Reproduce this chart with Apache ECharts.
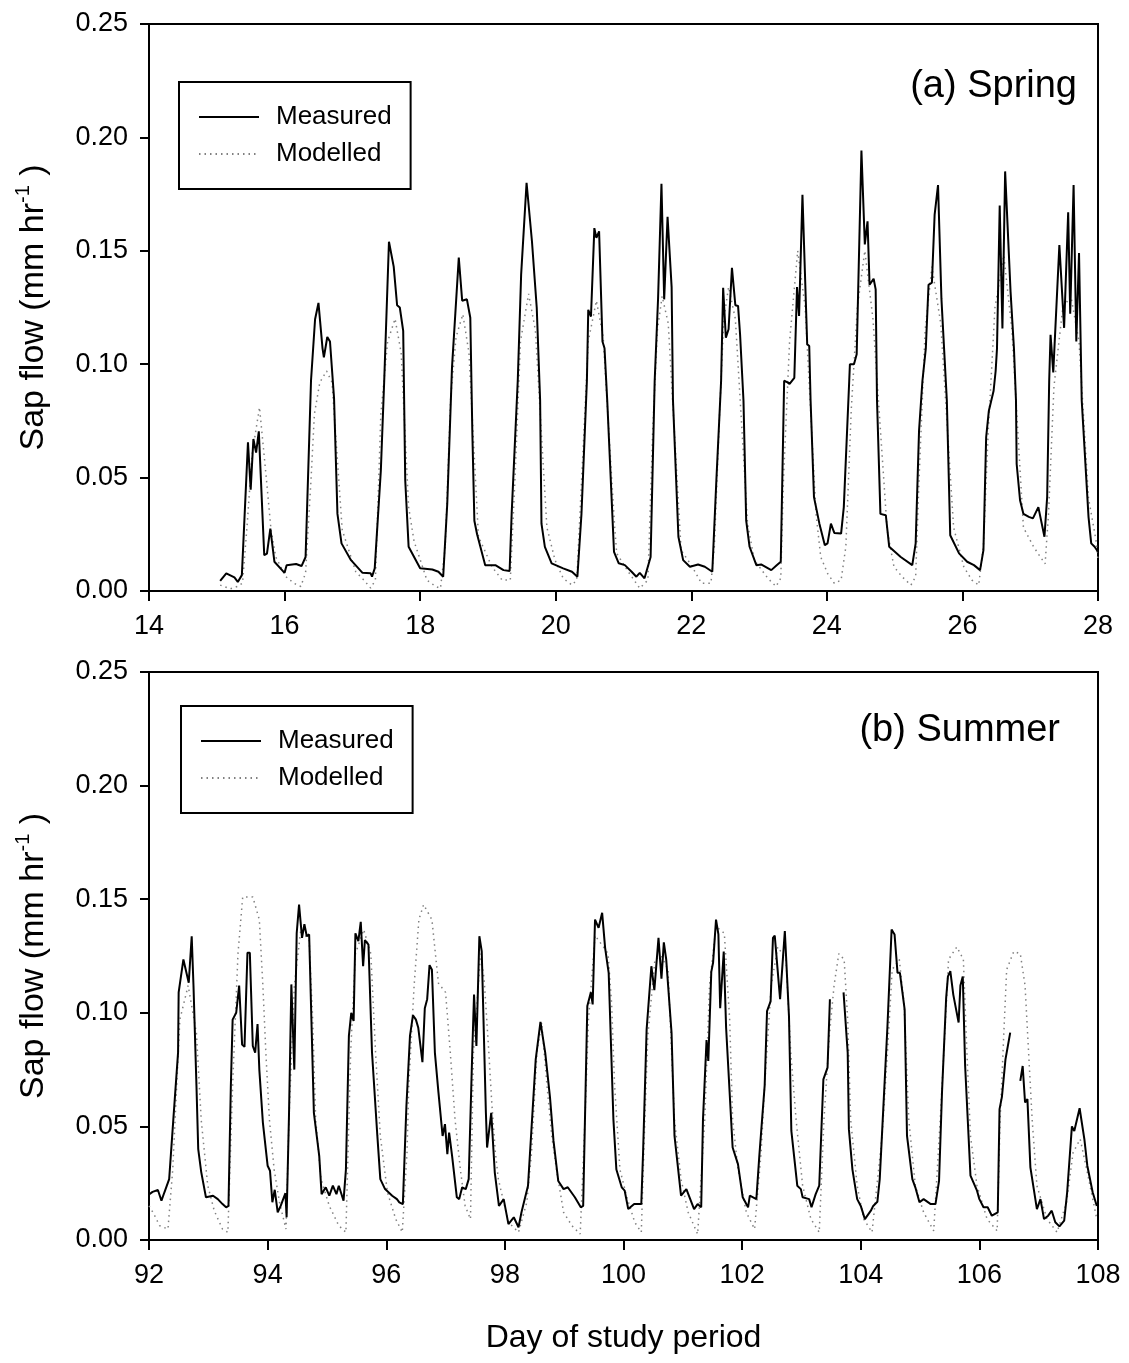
<!DOCTYPE html>
<html>
<head>
<meta charset="utf-8">
<script src="https://cdn.jsdelivr.net/npm/echarts@6/dist/echarts.min.js"></script>
<style>
html,body{margin:0;padding:0;background:#fff;}
#chart{width:1129px;height:1363px;}
</style>
</head>
<body>
<div id="chart"></div>
<script>
// ---- Data (day of study period, sap flow mm/hr) ----
var springMeasured = [[15.05,0.0045],[15.14,0.0078],[15.26,0.006],[15.31,0.004],[15.37,0.007],[15.46,0.0656],[15.50,0.0447],[15.54,0.067],[15.58,0.061],[15.62,0.0704],[15.70,0.0158],[15.74,0.0165],[15.79,0.0275],[15.85,0.0129],[16.00,0.008],[16.03,0.0114],[16.17,0.0119],[16.25,0.011],[16.31,0.015],[16.39,0.0927],[16.45,0.1198],[16.50,0.127],[16.56,0.107],[16.58,0.103],[16.63,0.112],[16.67,0.110],[16.73,0.085],[16.78,0.034],[16.84,0.021],[16.98,0.0136],[17.15,0.008],[17.27,0.0078],[17.29,0.0063],[17.33,0.010],[17.42,0.053],[17.47,0.0927],[17.54,0.154],[17.61,0.143],[17.66,0.126],[17.70,0.125],[17.75,0.1147],[17.78,0.0488],[17.83,0.0195],[18.00,0.010],[18.18,0.0095],[18.27,0.0085],[18.34,0.0063],[18.40,0.0385],[18.47,0.0986],[18.57,0.147],[18.62,0.128],[18.69,0.1286],[18.74,0.1205],[18.77,0.07],[18.80,0.031],[18.84,0.025],[18.96,0.0114],[19.11,0.0114],[19.23,0.0092],[19.32,0.0088],[19.35,0.034],[19.44,0.0927],[19.49,0.1396],[19.57,0.180],[19.65,0.154],[19.72,0.125],[19.77,0.084],[19.79,0.0297],[19.84,0.0195],[19.94,0.0122],[20.11,0.010],[20.24,0.0085],[20.32,0.0063],[20.38,0.034],[20.46,0.0927],[20.48,0.124],[20.52,0.121],[20.57,0.160],[20.60,0.1557],[20.64,0.1586],[20.69,0.110],[20.72,0.107],[20.76,0.084],[20.86,0.0173],[20.93,0.0122],[21.02,0.0114],[21.12,0.0085],[21.19,0.0063],[21.24,0.008],[21.31,0.0056],[21.40,0.015],[21.46,0.0927],[21.51,0.129],[21.56,0.1796],[21.60,0.1286],[21.65,0.165],[21.71,0.134],[21.73,0.084],[21.81,0.0239],[21.88,0.0136],[21.98,0.0107],[22.10,0.0117],[22.20,0.0107],[22.31,0.0085],[22.37,0.0488],[22.44,0.0927],[22.47,0.1337],[22.51,0.1117],[22.55,0.1154],[22.60,0.1425],[22.65,0.126],[22.69,0.1257],[22.72,0.113],[22.77,0.084],[22.81,0.031],[22.86,0.0195],[22.96,0.0114],[23.03,0.0117],[23.18,0.0092],[23.26,0.0114],[23.32,0.0129],[23.37,0.0927],[23.42,0.092],[23.45,0.0913],[23.52,0.094],[23.56,0.134],[23.59,0.1213],[23.64,0.1747],[23.71,0.1088],[23.74,0.108],[23.76,0.084],[23.81,0.0414],[23.89,0.0297],[23.97,0.0202],[24.01,0.021],[24.06,0.0297],[24.11,0.0256],[24.21,0.0253],[24.25,0.037],[24.33,0.0927],[24.34,0.100],[24.40,0.100],[24.44,0.1044],[24.51,0.1942],[24.56,0.1528],[24.60,0.163],[24.63,0.135],[24.69,0.1377],[24.72,0.133],[24.74,0.084],[24.79,0.034],[24.87,0.0334],[24.92,0.0195],[25.09,0.015],[25.26,0.0114],[25.31,0.021],[25.36,0.0707],[25.41,0.0927],[25.46,0.107],[25.50,0.135],[25.55,0.136],[25.59,0.166],[25.64,0.179],[25.69,0.129],[25.77,0.084],[25.82,0.0246],[25.95,0.0166],[26.07,0.0129],[26.17,0.0114],[26.26,0.0092],[26.31,0.018],[26.35,0.0678],[26.39,0.0795],[26.46,0.0883],[26.49,0.097],[26.51,0.107],[26.55,0.170],[26.59,0.1158],[26.63,0.185],[26.71,0.132],[26.76,0.107],[26.79,0.084],[26.80,0.056],[26.85,0.040],[26.90,0.034],[26.98,0.0327],[27.04,0.032],[27.12,0.037],[27.21,0.0239],[27.25,0.0414],[27.28,0.0927],[27.30,0.113],[27.34,0.0964],[27.43,0.1525],[27.50,0.116],[27.56,0.167],[27.59,0.1223],[27.64,0.179],[27.68,0.110],[27.72,0.149],[27.76,0.084],[27.86,0.0327],[27.90,0.021],[27.95,0.0195],[28.0,0.0173]];

var springModelled = [[15.05,0.0026],[15.20,0.001],[15.30,0.002],[15.38,0.0035],[15.45,0.03],[15.52,0.06],[15.63,0.081],[15.73,0.050],[15.80,0.027],[15.87,0.015],[16.02,0.0063],[16.14,0.0034],[16.24,0.002],[16.31,0.008],[16.39,0.049],[16.44,0.078],[16.52,0.092],[16.62,0.097],[16.70,0.092],[16.80,0.049],[16.85,0.027],[17.05,0.0085],[17.17,0.0048],[17.27,0.0013],[17.34,0.0048],[17.42,0.078],[17.52,0.110],[17.63,0.120],[17.72,0.105],[17.83,0.037],[17.91,0.022],[18.10,0.0048],[18.23,0.002],[18.30,0.0012],[18.37,0.0195],[18.45,0.085],[18.53,0.112],[18.63,0.122],[18.72,0.105],[18.86,0.024],[19.06,0.0107],[19.21,0.0048],[19.33,0.0048],[19.40,0.05],[19.48,0.110],[19.60,0.131],[19.70,0.115],[19.87,0.028],[19.99,0.0136],[20.11,0.0056],[20.24,0.0026],[20.31,0.0048],[20.40,0.06],[20.48,0.110],[20.60,0.128],[20.70,0.112],[20.87,0.028],[20.90,0.0166],[21.07,0.0085],[21.24,0.0012],[21.36,0.0048],[21.43,0.07],[21.50,0.115],[21.57,0.130],[21.66,0.118],[21.85,0.018],[22.0,0.0114],[22.15,0.0034],[22.29,0.0034],[22.34,0.0195],[22.42,0.08],[22.48,0.120],[22.55,0.134],[22.65,0.120],[22.83,0.0297],[22.93,0.0136],[23.13,0.0056],[23.25,0.002],[23.32,0.0056],[23.36,0.049],[23.45,0.110],[23.57,0.150],[23.68,0.125],[23.84,0.034],[23.91,0.015],[24.01,0.0078],[24.11,0.0034],[24.21,0.0048],[24.28,0.0195],[24.36,0.08],[24.45,0.125],[24.56,0.150],[24.68,0.120],[24.89,0.0268],[24.99,0.0107],[25.11,0.0063],[25.24,0.0026],[25.31,0.0063],[25.36,0.049],[25.45,0.115],[25.55,0.143],[25.68,0.118],[25.87,0.028],[26.02,0.0107],[26.14,0.0048],[26.24,0.0026],[26.31,0.02],[26.38,0.07],[26.48,0.125],[26.61,0.148],[26.73,0.115],[26.90,0.028],[27.05,0.0195],[27.15,0.015],[27.22,0.012],[27.27,0.034],[27.35,0.09],[27.48,0.125],[27.60,0.130],[27.72,0.110],[27.86,0.041],[27.97,0.0224],[28.0,0.0136]];

var summerMeasured = [[92.0,0.020],[92.06,0.0212],[92.15,0.022],[92.21,0.0173],[92.26,0.021],[92.34,0.0268],[92.41,0.053],[92.49,0.0825],[92.50,0.109],[92.58,0.1235],[92.67,0.1132],[92.72,0.1337],[92.75,0.112],[92.80,0.068],[92.83,0.040],[92.88,0.030],[92.96,0.0188],[93.08,0.0195],[93.16,0.018],[93.24,0.0158],[93.30,0.0144],[93.34,0.015],[93.38,0.068],[93.41,0.097],[93.47,0.100],[93.52,0.112],[93.57,0.086],[93.61,0.085],[93.66,0.1264],[93.70,0.1264],[93.75,0.0854],[93.79,0.0825],[93.83,0.095],[93.86,0.075],[93.92,0.0517],[94.0,0.0327],[94.04,0.0305],[94.08,0.0166],[94.12,0.0221],[94.17,0.0122],[94.22,0.015],[94.30,0.0206],[94.32,0.010],[94.36,0.0546],[94.40,0.1125],[94.45,0.075],[94.49,0.135],[94.53,0.1476],[94.58,0.133],[94.62,0.139],[94.66,0.1337],[94.70,0.1345],[94.78,0.056],[94.87,0.037],[94.91,0.0202],[94.98,0.0232],[95.04,0.0195],[95.10,0.0239],[95.16,0.0202],[95.20,0.0239],[95.28,0.0173],[95.32,0.031],[95.37,0.0898],[95.41,0.100],[95.45,0.0964],[95.48,0.135],[95.53,0.1315],[95.57,0.140],[95.61,0.1205],[95.64,0.132],[95.70,0.130],[95.76,0.0825],[95.85,0.0458],[95.90,0.0268],[95.98,0.0224],[96.10,0.0195],[96.18,0.018],[96.22,0.0166],[96.28,0.0158],[96.34,0.059],[96.40,0.0898],[96.45,0.0989],[96.50,0.097],[96.54,0.0934],[96.61,0.0783],[96.65,0.102],[96.69,0.106],[96.73,0.121],[96.77,0.119],[96.82,0.0825],[96.88,0.065],[96.95,0.0458],[96.99,0.051],[97.03,0.0378],[97.06,0.0473],[97.11,0.037],[97.19,0.0188],[97.23,0.018],[97.28,0.0232],[97.34,0.0224],[97.39,0.0268],[97.45,0.0825],[97.48,0.108],[97.52,0.0854],[97.57,0.1337],[97.61,0.127],[97.68,0.056],[97.70,0.0407],[97.77,0.056],[97.83,0.0297],[97.90,0.015],[97.98,0.018],[98.06,0.007],[98.15,0.010],[98.23,0.0056],[98.28,0.0122],[98.39,0.0239],[98.52,0.0795],[98.60,0.096],[98.68,0.0825],[98.76,0.063],[98.82,0.0436],[98.90,0.026],[98.99,0.0224],[99.06,0.0232],[99.18,0.0188],[99.28,0.0144],[99.32,0.015],[99.39,0.103],[99.45,0.109],[99.48,0.1037],[99.52,0.141],[99.58,0.1374],[99.64,0.144],[99.69,0.1286],[99.75,0.1176],[99.83,0.053],[99.88,0.031],[99.97,0.0232],[100.02,0.0217],[100.08,0.0136],[100.18,0.0158],[100.30,0.0158],[100.33,0.0385],[100.39,0.0927],[100.47,0.1205],[100.52,0.110],[100.59,0.133],[100.64,0.115],[100.68,0.131],[100.72,0.1235],[100.81,0.0913],[100.86,0.0458],[100.97,0.0195],[101.06,0.0224],[101.19,0.0136],[101.25,0.0158],[101.31,0.0144],[101.34,0.053],[101.40,0.088],[101.43,0.0788],[101.48,0.118],[101.51,0.122],[101.56,0.141],[101.60,0.1345],[101.63,0.102],[101.69,0.127],[101.73,0.0934],[101.84,0.0407],[101.93,0.0334],[102.01,0.0188],[102.10,0.0144],[102.13,0.0195],[102.24,0.018],[102.29,0.037],[102.38,0.068],[102.42,0.1007],[102.48,0.105],[102.52,0.133],[102.55,0.134],[102.64,0.106],[102.72,0.136],[102.79,0.0985],[102.83,0.048],[102.93,0.0239],[102.99,0.0224],[103.02,0.0188],[103.13,0.018],[103.17,0.0144],[103.24,0.0202],[103.30,0.0239],[103.37,0.0707],[103.44,0.0759],[103.48,0.106],[103.60,'-'],[103.71,0.109],[103.74,0.1095],[103.78,0.0825],[103.80,0.0488],[103.86,0.031],[103.94,0.018],[104.0,0.015],[104.07,0.0092],[104.17,0.0129],[104.21,0.015],[104.28,0.0168],[104.32,0.0268],[104.39,0.063],[104.45,0.094],[104.52,0.1366],[104.57,0.1345],[104.62,0.1176],[104.66,0.1176],[104.74,0.1015],[104.78,0.0458],[104.87,0.0268],[104.92,0.0232],[104.99,0.0166],[105.06,0.018],[105.18,0.0158],[105.26,0.0158],[105.32,0.026],[105.37,0.065],[105.44,0.1066],[105.47,0.116],[105.51,0.1183],[105.56,0.108],[105.65,0.0957],[105.68,0.112],[105.72,0.116],[105.76,0.0766],[105.85,0.0283],[105.96,0.0217],[106.0,0.018],[106.07,0.0144],[106.14,0.0144],[106.21,0.0107],[106.31,0.0122],[106.34,0.0576],[106.38,0.063],[106.44,0.0795],[106.52,0.0913],[106.60,'-'],[106.69,0.070],[106.73,0.0766],[106.77,0.0605],[106.81,0.062],[106.86,0.032],[106.97,0.0136],[107.03,0.018],[107.09,0.0092],[107.16,0.0107],[107.22,0.0129],[107.28,0.0078],[107.35,0.006],[107.43,0.0085],[107.48,0.021],[107.56,0.050],[107.60,0.048],[107.69,0.058],[107.77,0.0444],[107.82,0.0327],[107.91,0.021],[107.98,0.015]];

var summerModelled = [[92.0,0.015],[92.07,0.012],[92.18,0.0063],[92.32,0.0048],[92.40,0.031],[92.52,0.097],[92.66,0.112],[92.80,0.091],[92.88,0.053],[92.99,0.024],[93.10,0.0129],[93.24,0.0048],[93.33,0.0034],[93.41,0.068],[93.50,0.126],[93.58,0.151],[93.75,0.151],[93.86,0.141],[93.92,0.112],[93.97,0.0825],[94.03,0.053],[94.11,0.031],[94.20,0.0166],[94.31,0.0048],[94.36,0.053],[94.45,0.112],[94.56,0.1366],[94.70,0.132],[94.76,0.097],[94.81,0.053],[94.90,0.0268],[95.04,0.015],[95.20,0.0063],[95.32,0.0034],[95.40,0.0825],[95.48,0.126],[95.62,0.1366],[95.74,0.126],[95.82,0.0825],[95.90,0.0458],[96.02,0.021],[96.16,0.0092],[96.27,0.0034],[96.35,0.0385],[96.38,0.068],[96.47,0.112],[96.55,0.141],[96.63,0.1476],[96.77,0.141],[96.88,0.113],[97.0,0.109],[97.08,0.0825],[97.16,0.053],[97.25,0.031],[97.33,0.015],[97.42,0.0092],[97.47,0.0825],[97.59,0.126],[97.65,0.115],[97.73,0.0825],[97.78,0.060],[97.84,0.0385],[97.89,0.0268],[98.06,0.0078],[98.23,0.0034],[98.37,0.0166],[98.45,0.0385],[98.54,0.0825],[98.62,0.0957],[98.71,0.068],[98.79,0.0458],[98.87,0.031],[98.99,0.0122],[99.13,0.0063],[99.27,0.0026],[99.35,0.053],[99.41,0.097],[99.52,0.134],[99.69,0.128],[99.74,0.126],[99.80,0.104],[99.85,0.068],[99.94,0.031],[100.05,0.0195],[100.19,0.0078],[100.30,0.0034],[100.36,0.053],[100.41,0.0898],[100.53,0.1235],[100.64,0.125],[100.75,0.119],[100.86,0.053],[100.97,0.0268],[101.09,0.0122],[101.25,0.0026],[101.37,0.053],[101.45,0.112],[101.56,0.138],[101.70,0.135],[101.79,0.097],[101.84,0.053],[101.93,0.031],[102.07,0.0122],[102.21,0.0048],[102.32,0.0385],[102.38,0.068],[102.49,0.112],[102.60,0.129],[102.74,0.1235],[102.82,0.0825],[102.91,0.053],[103.02,0.0239],[103.16,0.0092],[103.30,0.0034],[103.38,0.053],[103.47,0.0898],[103.55,0.112],[103.63,0.126],[103.72,0.1235],[103.78,0.097],[103.83,0.053],[103.94,0.0239],[104.05,0.0092],[104.19,0.0034],[104.36,0.0458],[104.45,0.0825],[104.53,0.119],[104.65,0.1235],[104.73,0.104],[104.81,0.053],[104.92,0.0239],[105.06,0.0122],[105.23,0.004],[105.34,0.053],[105.43,0.097],[105.48,0.1235],[105.62,0.129],[105.73,0.1235],[105.79,0.0825],[105.85,0.0458],[105.96,0.0239],[106.13,0.0092],[106.30,0.004],[106.35,0.053],[106.41,0.0898],[106.46,0.119],[106.58,0.127],[106.69,0.126],[106.77,0.112],[106.83,0.0825],[106.89,0.053],[106.97,0.0239],[107.14,0.0092],[107.31,0.0034],[107.47,0.0166],[107.58,0.0385],[107.70,0.0444],[107.81,0.031],[107.98,0.0092]];

var seriesNames = ['Measured', 'Modelled'];
var panelTitles = ['(a) Spring', '(b) Summer'];
var yAxisTitle = 'Sap flow (mm hr';
var xAxisTitle = 'Day of study period';
var springRange = [14, 28];
var summerRange = [92, 108];
var yRange = [0, 0.25];

// ---- Chart ----
var FONT = '"Liberation Sans", Arial, sans-serif';
var chart = echarts.init(document.getElementById('chart'), null, {renderer: 'canvas'});

function xAxisCfg(idx, range, withName) {
  return {
    type: 'value', gridIndex: idx, min: range[0], max: range[1], interval: 2,
    axisLine: {show: true, onZero: false, lineStyle: {color: '#000', width: 2}},
    axisTick: {show: true, inside: false, length: 10, lineStyle: {color: '#000', width: 2}},
    axisLabel: {color: '#000', fontSize: 27, fontFamily: FONT, margin: 22},
    splitLine: {show: false},
    name: withName ? xAxisTitle : '',
    nameLocation: 'middle', nameGap: 82,
    nameTextStyle: {color: '#000', fontSize: 32, fontFamily: FONT}
  };
}
function yAxisCfg(idx) {
  return {
    type: 'value', gridIndex: idx, min: yRange[0], max: yRange[1], interval: 0.05,
    axisLine: {show: true, lineStyle: {color: '#000', width: 2}},
    axisTick: {show: true, inside: false, length: 9, lineStyle: {color: '#000', width: 2}},
    axisLabel: {color: '#000', fontSize: 27, fontFamily: FONT, margin: 21,
      formatter: function (v) { return v.toFixed(2); }},
    splitLine: {show: false},
    name: '{a|' + yAxisTitle + '}{s|-1}{a| )}',
    nameLocation: 'middle', nameRotate: 90, nameGap: 98,
    nameTextStyle: {
      color: '#000', fontFamily: FONT,
      rich: {
        a: {fontSize: 34, fontFamily: FONT, color: '#000', lineHeight: 38, verticalAlign: 'bottom'},
        s: {fontSize: 20, fontFamily: FONT, color: '#000', lineHeight: 38, verticalAlign: 'top'}
      }
    }
  };
}
function legendCfg(left, top) {
  return {
    show: true, orient: 'vertical', left: left, top: top,
    data: seriesNames,
    backgroundColor: '#fff',
    borderColor: '#000', borderWidth: 2, borderRadius: 0,
    padding: [22, 19, 22, 19],
    itemWidth: 60, itemHeight: 14, itemGap: 11,
    selectedMode: false,
    itemStyle: {opacity: 0, borderWidth: 0},
    textStyle: {color: '#000', fontSize: 26, fontFamily: FONT, padding: [0, 0, 0, 12]}
  };
}
function measuredSeries(idx, data) {
  return {
    name: seriesNames[0], type: 'line', xAxisIndex: idx, yAxisIndex: idx,
    data: data, symbol: 'none', connectNulls: false, smooth: false,
    lineStyle: {color: '#000', width: 2}, itemStyle: {color: '#000'},
    z: 3, animation: false
  };
}
function modelledSeries(idx, data) {
  return {
    name: seriesNames[1], type: 'line', xAxisIndex: idx, yAxisIndex: idx,
    data: data, symbol: 'none', smooth: false,
    lineStyle: {color: '#808080', width: 1.5, type: [1.5, 4]}, itemStyle: {color: '#808080'},
    z: 2, animation: false
  };
}

var option = {
  backgroundColor: '#fff',
  animation: false,
  grid: [
    {left: 149, top: 24, width: 949, height: 567, show: true, borderColor: '#000', borderWidth: 2, containLabel: false},
    {left: 149, top: 672, width: 949, height: 568, show: true, borderColor: '#000', borderWidth: 2, containLabel: false}
  ],
  title: [
    {text: panelTitles[0], right: 52, top: 68, padding: 0,
      textStyle: {color: '#000', fontSize: 38, fontWeight: 'normal', fontFamily: FONT}},
    {text: panelTitles[1], right: 69, top: 712, padding: 0,
      textStyle: {color: '#000', fontSize: 38, fontWeight: 'normal', fontFamily: FONT}}
  ],
  legend: [legendCfg(179, 82), legendCfg(181, 706)],
  xAxis: [xAxisCfg(0, springRange, false), xAxisCfg(1, summerRange, true)],
  yAxis: [yAxisCfg(0), yAxisCfg(1)],
  series: [
    measuredSeries(0, springMeasured),
    modelledSeries(0, springModelled),
    measuredSeries(1, summerMeasured),
    modelledSeries(1, summerModelled)
  ]
};
chart.setOption(option);
</script>
</body>
</html>
